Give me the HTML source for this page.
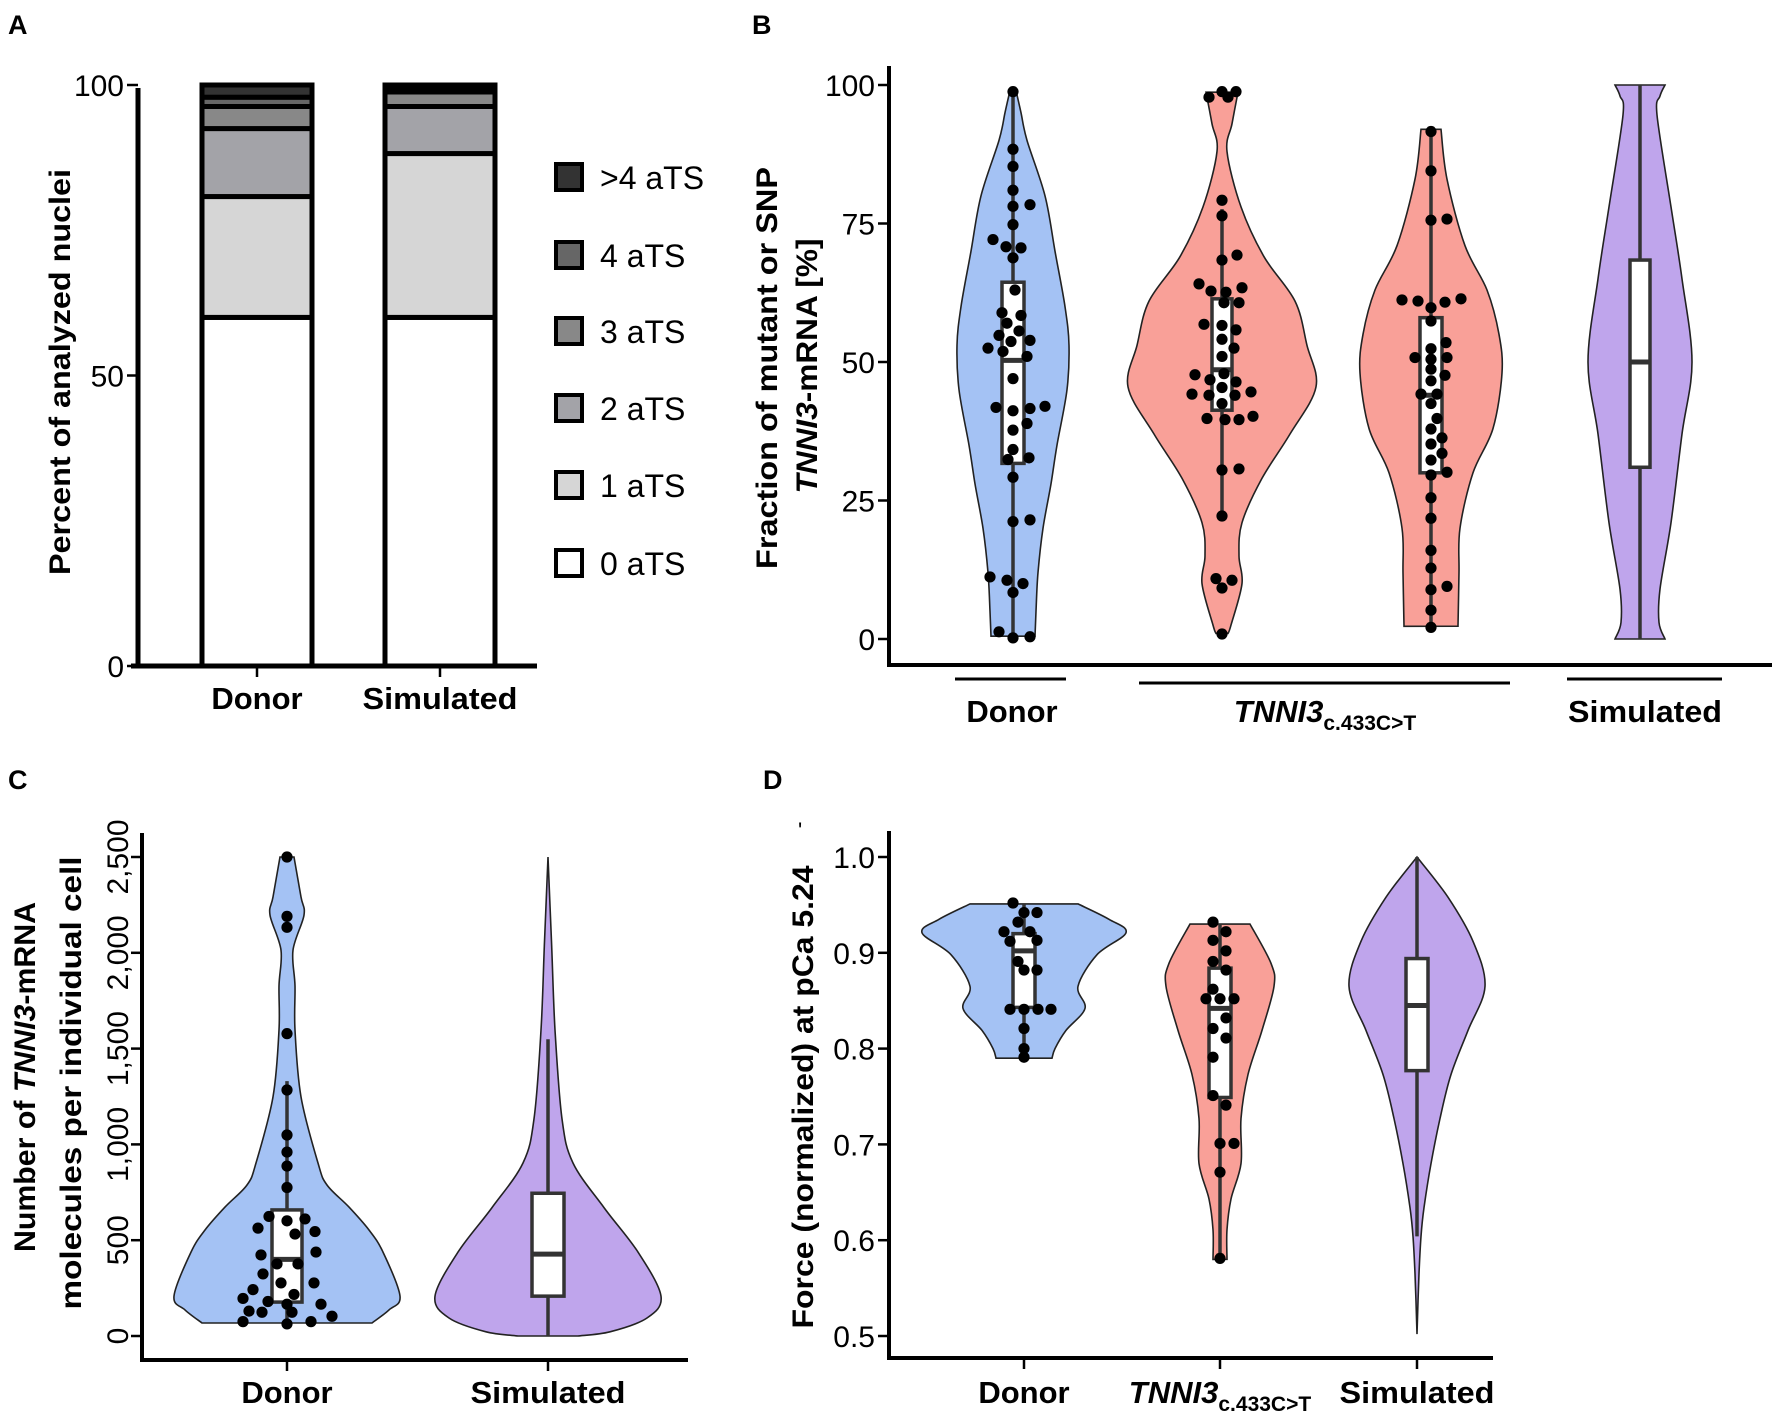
<!DOCTYPE html>
<html><head><meta charset="utf-8"><title>TNNI3 figure</title>
<style>
html,body{margin:0;padding:0;background:#fff;}
svg{display:block;font-family:"Liberation Sans",Arial,sans-serif;}
.tick{font-size:30px;fill:#000;}
.cat{font-size:31px;font-weight:bold;fill:#000;}
.ttl{font-size:30px;font-weight:bold;fill:#000;}
.let{font-size:27px;font-weight:bold;fill:#000;}
.leg{font-size:32px;fill:#000;}
</style></head>
<body>
<svg id="chart" width="1772" height="1415" viewBox="0 0 1772 1415" xmlns="http://www.w3.org/2000/svg">
<rect x="0" y="0" width="1772" height="1415" fill="#fff"/>
<text class="let" x="8" y="34">A</text>
<text class="let" x="752" y="34">B</text>
<text class="let" x="8" y="789">C</text>
<text class="let" x="763" y="789">D</text>

<text class="ttl" transform="translate(70,372) rotate(-90)" text-anchor="middle" textLength="406" lengthAdjust="spacingAndGlyphs">Percent of analyzed nuclei</text>

<text class="ttl" transform="translate(777,368) rotate(-90)" text-anchor="middle" textLength="402" lengthAdjust="spacingAndGlyphs">Fraction of mutant or SNP</text>
<text class="ttl" transform="translate(817,366) rotate(-90)" text-anchor="middle" textLength="255" lengthAdjust="spacingAndGlyphs"><tspan font-style="italic">TNNI3</tspan>-mRNA [%]</text>

<text class="ttl" transform="translate(35,1077) rotate(-90)" text-anchor="middle" textLength="350" lengthAdjust="spacingAndGlyphs">Number of <tspan font-style="italic">TNNI3</tspan>-mRNA</text>
<text class="ttl" transform="translate(81,1083) rotate(-90)" text-anchor="middle" textLength="453" lengthAdjust="spacingAndGlyphs">molecules per individual cell</text>

<text class="ttl" transform="translate(813,1097) rotate(-90)" text-anchor="middle" textLength="463" lengthAdjust="spacingAndGlyphs">Force (normalized) at pCa 5.24</text>
<text x="798" y="838" font-size="22">'</text>

<text class="cat" x="257" y="709" text-anchor="middle">Donor</text>
<text class="cat" x="440" y="709" text-anchor="middle" textLength="155" lengthAdjust="spacingAndGlyphs">Simulated</text>

<line x1="955" y1="679" x2="1066" y2="679" stroke="#000" stroke-width="3"/>
<line x1="1139" y1="683" x2="1510" y2="683" stroke="#000" stroke-width="3"/>
<line x1="1567" y1="679" x2="1722" y2="679" stroke="#000" stroke-width="3"/>
<text class="cat" x="1012" y="722" text-anchor="middle">Donor</text>
<text class="cat" x="1325" y="722" text-anchor="middle"><tspan font-style="italic">TNNI3</tspan><tspan font-size="21" dy="8">c.433C&gt;T</tspan></text>
<text class="cat" x="1645" y="722" text-anchor="middle" textLength="154" lengthAdjust="spacingAndGlyphs">Simulated</text>

<text class="cat" x="287" y="1403" text-anchor="middle">Donor</text>
<text class="cat" x="548" y="1403" text-anchor="middle" textLength="155" lengthAdjust="spacingAndGlyphs">Simulated</text>

<text class="cat" x="1024" y="1403" text-anchor="middle">Donor</text>
<text class="cat" x="1220" y="1403" text-anchor="middle"><tspan font-style="italic">TNNI3</tspan><tspan font-size="21" dy="8">c.433C&gt;T</tspan></text>
<text class="cat" x="1417" y="1403" text-anchor="middle" textLength="155" lengthAdjust="spacingAndGlyphs">Simulated</text>
</svg>
<script>
// ---------- Panel A data ----------
const aCategories = ['Donor', 'Simulated'];
const aClasses = ['0 aTS', '1 aTS', '2 aTS', '3 aTS', '4 aTS', '>4 aTS'];
const aDonor = [60, 20.8, 11.7, 3.8, 1.6, 2.1];
const aSimulated = [60, 28.2, 8.1, 2.5, 0.5, 0.7];
const aTicks = [0, 50, 100];

// ---------- Panel B data ----------
const bTicks = [0, 25, 50, 75, 100];
const bDonorDensV = [0.5, 5, 12, 20, 28, 35, 45, 53, 60, 70, 80, 90, 95, 99];
const bDonorDensW = [22, 23, 25, 30, 38, 44, 54, 56, 52, 42, 32, 14, 8, 3];
const bMut1DensV = [1, 2.5, 10, 15, 21, 29, 37, 45.5, 53, 61, 69, 78, 88, 93, 98.7];
const bMut1DensW = [6, 9, 20, 17, 20, 40, 68, 94, 85, 73, 42, 19, 5, 10, 16];
const bMut2DensV = [2.3, 12, 20, 30, 38, 48, 55, 63, 71, 83, 92];
const bMut2DensW = [27, 28, 29, 42, 62, 71, 68, 56, 34, 16, 10];
const bSimDensV = [0, 3, 9, 21, 37, 50, 65, 78, 94.6, 98, 100];
const bSimDensW = [25, 19, 20, 31, 42, 52, 42, 31, 17, 20, 25];
const bDonorBox = [31.7, 50.3, 64.4, 0.2, 98.8];
const bMut1Box = [41.3, 48.6, 61.4, 22.2, 77.6];
const bMut2Box = [30, 44, 58, 2.1, 91.6];
const bSimBox = [31, 50, 68.4, 0, 100];
const bDonorPts = [98.8,88.4,85.3,81,78.1,78.4,74.8,72.1,70.8,70.6,68.8,63,58.9,58.4,57,55.6,54.8,53.7,53.9,52.5,51.9,51,47,41.8,41.2,41.6,42,38.9,37.7,34.2,32.4,32.7,29.2,21.2,21.5,11.2,10.6,10,8.4,1.3,0.2,0.4];
const bDonorJit = [0,0,0,0,0,17,0,-20,-7,8,0,2,-11,8,-6,6,-14,-2,17,-25,-10,14,0,-17,0,17,32,14,0,0,-5,16,0,0,17,-23,-6,10,0,-14,0,17];
const bMut1Pts = [97.8,98.8,97.8,98.8,79.2,76.4,69.3,68.4,64.1,62.8,62.6,63.4,60.7,60.7,56.8,56.6,55.8,54.1,52.5,51,47.9,47.7,46.8,46.4,45.4,44.2,44,44,44.6,42.5,39.8,39.6,39.6,40.2,30.5,30.7,22.2,10.9,10.6,9.2,0.9];
const bMut1Jit = [-13,0,6,14,0,0,15,0,-23,-11,4,20,2,17,-18,0,14,0,12,0,2,-27,-12,14,0,-30,-13,13,29,0,-15,3,17,31,0,17,0,-6,10,0,0];
const bMut2Pts = [91.6,84.5,75.6,75.8,61.2,61,59.8,60.8,61.4,57.4,53.5,52.4,50.8,50.5,50.8,48.7,47.6,46.6,44.2,44.2,42.5,39.8,37.9,36.3,35.2,33.5,32.3,30.1,29.6,25.5,21.8,16,12.8,9.5,8.9,5.2,2.1];
const bMut2Jit = [0,0,0,16,-29,-13,0,14,30,0,15,0,-16,0,16,0,14,0,-10,6,0,6,0,11,0,11,0,16,0,0,0,0,0,16,0,0,0];

// ---------- Panel C data ----------
const cTicks = [0, 500, 1000, 1500, 2000, 2500];
const cTickLabels = ['0', '500', '1,000', '1,500', '2,000', '2,500'];
const cDonorDensV = [68, 136, 208, 438, 553, 673, 788, 903, 1248, 1597, 1827, 2014, 2197, 2291, 2500];
const cDonorDensW = [85, 102, 113, 96, 82, 62, 40, 31, 14, 8, 8, 6, 17, 14, 7];
const cSimDensV = [0, 22, 94, 208, 438, 670, 903, 1133, 1597, 2058, 2500];
const cSimDensW = [30, 62, 99, 113, 90, 56, 25, 14, 7, 3.5, 0];
const cDonorBox = [177, 400, 658, 63, 1330];
const cSimBox = [208, 427, 745, 0, 1549];
const cDonorPts = [2500,2190,2133,1578,1284,1049,960,887,775,601,624,563,545,532,611,423,438,376,376,324,277,277,242,217,196,180,166,166,130,124,124,103,75,63,75];
const cDonorJit = [0,0,0,0,0,0,0,0,0,0,-18,-29,28,8,18,-26,29,11,-10,-24,27,-6,-34,7,-44,-19,0,34,-38,-25,5,45,-44,0,24];

// ---------- Panel D data ----------
const dTicks = [0.5, 0.6, 0.7, 0.8, 0.9, 1.0];
const dTickLabels = ['0.5', '0.6', '0.7', '0.8', '0.9', '1.0'];
const dDonorDensV = [0.79, 0.80, 0.819, 0.842, 0.865, 0.898, 0.921, 0.935, 0.951];
const dDonorDensW = [28, 31, 42, 61, 54, 73, 102, 85, 54];
const dMutDensV = [0.58, 0.611, 0.643, 0.68, 0.727, 0.773, 0.819, 0.865, 0.889, 0.93];
const dMutDensW = [7, 7, 11, 21, 21, 28, 42, 54, 51, 30];
const dSimDensV = [0.502, 0.565, 0.604, 0.634, 0.68, 0.727, 0.773, 0.819, 0.865, 0.912, 0.958, 1.0];
const dSimDensW = [0, 2, 4, 7, 14, 23, 34, 51, 68, 56, 31, 0];
const dDonorBox = [0.843, 0.902, 0.920, 0.79, 0.951];
const dMutBox = [0.749, 0.842, 0.884, 0.58, 0.93];
const dSimBox = [0.777, 0.845, 0.894, 0.604, 1.0];
const dDonorPts = [0.952,0.942,0.942,0.932,0.922,0.922,0.912,0.913,0.891,0.882,0.882,0.841,0.841,0.841,0.841,0.821,0.80,0.791];
const dDonorJit = [-11,0,13,-6,-20,6,-14,13,-6,0,13,-14,0,14,27,0,0,0];
const dMutPts = [0.932,0.922,0.913,0.902,0.891,0.882,0.862,0.852,0.852,0.852,0.832,0.821,0.811,0.791,0.751,0.741,0.701,0.701,0.671,0.581];
const dMutJit = [-7,6,-7,6,-7,6,-7,-14,0,14,6,-7,6,-7,-7,6,0,14,0,0];

const NS = 'http://www.w3.org/2000/svg';
const svg = document.getElementById('chart');
function mk(tag, attrs) {
  const e = document.createElementNS(NS, tag);
  for (const k in attrs) e.setAttribute(k, attrs[k]);
  svg.appendChild(e);
  return e;
}
const BLUE = '#a4c2f4', RED = '#f9a098', PURPLE = '#bfa5ec';

// scales
const yA = v => 666 - v * 5.81;
const yB = v => 639 - v * 5.54;
const yC = v => 1336 - v * 479 / 2500;
const yD = v => 857 + (1 - v) * 958;

function smooth(pts) {
  let d = 'M' + pts[0][0] + ',' + pts[0][1];
  for (let i = 0; i < pts.length - 1; i++) {
    const p0 = pts[Math.max(0, i - 1)], p1 = pts[i], p2 = pts[i + 1], p3 = pts[Math.min(pts.length - 1, i + 2)];
    const c1x = p1[0] + (p2[0] - p0[0]) / 6, c1y = p1[1] + (p2[1] - p0[1]) / 6;
    const c2x = p2[0] - (p3[0] - p1[0]) / 6, c2y = p2[1] - (p3[1] - p1[1]) / 6;
    d += ' C' + c1x.toFixed(1) + ',' + c1y.toFixed(1) + ' ' + c2x.toFixed(1) + ',' + c2y.toFixed(1) + ' ' + p2[0].toFixed(1) + ',' + p2[1].toFixed(1);
  }
  return d;
}
function violin(cx, vs, ws, ys, color, name) {
  const right = vs.map((v, i) => [cx + ws[i], ys(v)]);
  const left = vs.map((v, i) => [cx - ws[i], ys(v)]).reverse();
  let d = smooth(right);
  const l = smooth(left);
  d += ' L' + l.slice(1) + ' Z';
  const p = mk('path', {d: d, fill: color, stroke: '#222', 'stroke-width': 1.6});
  
  
}
function boxplot(cx, box, ys, hw, name) {
  const wl = mk('line', {x1: cx, x2: cx, y1: ys(box[3]), y2: ys(box[4]), stroke: '#333', 'stroke-width': 3.5});
  
  
  const r = mk('rect', {x: cx - hw, y: ys(box[2]), width: 2 * hw, height: ys(box[0]) - ys(box[2]), fill: '#fff', stroke: '#333', 'stroke-width': 3.5});
  
  
  const m = mk('line', {x1: cx - hw, x2: cx + hw, y1: ys(box[1]), y2: ys(box[1]), stroke: '#333', 'stroke-width': 5});
  
  
}
function points(cx, vals, jit, ys, name) {
  vals.forEach((v, i) => {
    const c = mk('circle', {cx: cx + jit[i], cy: ys(v), r: 5.6, fill: '#000'});
    
    
  });
}
function yAxis(x, yTop, yBot, ticks, labels, ys, name, sw, rotateLabels) {
  const ax = mk('line', {x1: x, x2: x, y1: yTop, y2: yBot, stroke: '#000', 'stroke-width': sw});
  
  
  ticks.forEach((t, i) => {
    const tk = mk('line', {x1: x - 11, x2: x, y1: ys(t), y2: ys(t), stroke: '#000', 'stroke-width': 2.5});
    
    
    let tx;
    if (rotateLabels) {
      tx = mk('text', {class: 'tick', 'text-anchor': 'middle', transform: 'translate(' + (x - 14) + ',' + ys(t) + ') rotate(-90)'});
    } else {
      tx = mk('text', {class: 'tick', 'text-anchor': 'end', x: x - 14, y: ys(t) + 11});
    }
    tx.textContent = labels[i];
    
    
  });
}
function xAxis(x1, x2, y, tickXs, name, sw) {
  const ax = mk('line', {x1: x1, x2: x2, y1: y, y2: y, stroke: '#000', 'stroke-width': sw});
  
  
  tickXs.forEach(tx => {
    const tk = mk('line', {x1: tx, x2: tx, y1: y, y2: y + 11, stroke: '#000', 'stroke-width': 2.5});
    
    
  });
}

// ---------- Panel A ----------
const aGray = ['#ffffff', '#d6d6d6', '#a3a3a8', '#888888', '#666666', '#333333'];
const aCx = [257, 440];
[aDonor, aSimulated].forEach((series, bi) => {
  let acc = 0;
  series.forEach((v, si) => {
    const r = mk('rect', {x: aCx[bi] - 55, y: yA(acc + v), width: 110, height: yA(acc) - yA(acc + v), fill: aGray[si], stroke: '#000', 'stroke-width': 5});
    
    
    acc += v;
  });
});
yAxis(138, 88, 668, aTicks, aTicks.map(String), yA, 'panel-a', 5, false);
xAxis(131, 537, 666, aCx, 'panel-a', 5);
const aLegY = [563, 485, 408, 331, 255, 177];
aClasses.forEach((c, i) => {
  const s = mk('rect', {x: 556, y: aLegY[i] - 13, width: 26, height: 26, fill: aGray[i], stroke: '#000', 'stroke-width': 4});
  
  
  const t = mk('text', {class: 'leg', x: 600, y: aLegY[i] + 12});
  t.textContent = c;
  
  
});

// ---------- Panel B ----------
const bCx = [1013, 1222, 1431, 1640];
violin(bCx[0], bDonorDensV, bDonorDensW, yB, BLUE, 'violin-b-donor');
violin(bCx[1], bMut1DensV, bMut1DensW, yB, RED, 'violin-b-mutant-1');
violin(bCx[2], bMut2DensV, bMut2DensW, yB, RED, 'violin-b-mutant-2');
violin(bCx[3], bSimDensV, bSimDensW, yB, PURPLE, 'violin-b-simulated');
boxplot(bCx[0], bDonorBox, yB, 11, 'boxplot-b-donor');
boxplot(bCx[1], bMut1Box, yB, 10, 'boxplot-b-mutant-1');
boxplot(bCx[2], bMut2Box, yB, 11, 'boxplot-b-mutant-2');
boxplot(bCx[3], bSimBox, yB, 10, 'boxplot-b-simulated');
points(bCx[0], bDonorPts, bDonorJit, yB, 'point-b-donor');
points(bCx[1], bMut1Pts, bMut1Jit, yB, 'point-b-mutant-1');
points(bCx[2], bMut2Pts, bMut2Jit, yB, 'point-b-mutant-2');
yAxis(889, 66, 667, bTicks, bTicks.map(String), yB, 'panel-b', 4, false);
xAxis(887, 1772, 665, [], 'panel-b', 4);

// ---------- Panel C ----------
const cCx = [287, 548];
violin(cCx[0], cDonorDensV, cDonorDensW, yC, BLUE, 'violin-c-donor');
violin(cCx[1], cSimDensV, cSimDensW, yC, PURPLE, 'violin-c-simulated');
boxplot(cCx[0], cDonorBox, yC, 15, 'boxplot-c-donor');
boxplot(cCx[1], cSimBox, yC, 16, 'boxplot-c-simulated');
points(cCx[0], cDonorPts, cDonorJit, yC, 'point-c-donor');
yAxis(142, 833, 1362, cTicks, cTickLabels, yC, 'panel-c', 4, true);
xAxis(140, 688, 1360, cCx, 'panel-c', 4);

// ---------- Panel D ----------
const dCx = [1024, 1220, 1417];
violin(dCx[0], dDonorDensV, dDonorDensW, yD, BLUE, 'violin-d-donor');
violin(dCx[1], dMutDensV, dMutDensW, yD, RED, 'violin-d-mutant');
violin(dCx[2], dSimDensV, dSimDensW, yD, PURPLE, 'violin-d-simulated');
boxplot(dCx[0], dDonorBox, yD, 11, 'boxplot-d-donor');
boxplot(dCx[1], dMutBox, yD, 11, 'boxplot-d-mutant');
boxplot(dCx[2], dSimBox, yD, 11, 'boxplot-d-simulated');
points(dCx[0], dDonorPts, dDonorJit, yD, 'point-d-donor');
points(dCx[1], dMutPts, dMutJit, yD, 'point-d-mutant');
yAxis(889, 831, 1360, dTicks, dTickLabels, yD, 'panel-d', 4, false);
xAxis(887, 1493, 1358, dCx, 'panel-d', 4);
</script>
</body></html>
